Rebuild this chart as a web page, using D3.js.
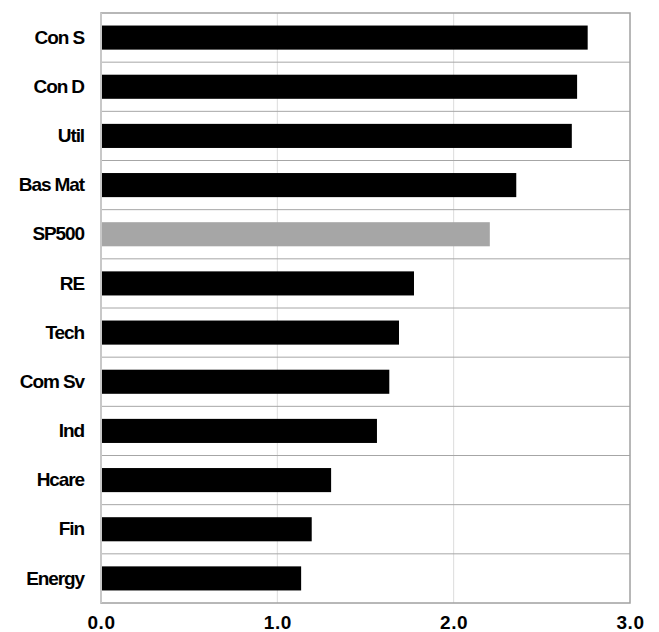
<!DOCTYPE html>
<html>
<head>
<meta charset="utf-8">
<script src="https://cdn.jsdelivr.net/npm/d3@7"></script>
<style>
  body { margin: 0; background: #fff; }
  .cat text { font-family: "Liberation Sans", Arial, sans-serif; font-weight: bold; font-size: 19px; letter-spacing: -1.1px; fill: #000; }
  .xaxis text { font-family: "Liberation Sans", Arial, sans-serif; font-weight: bold; font-size: 19px; letter-spacing: 0.6px; fill: #000; }
</style>
</head>
<body>
<div id="wrapper"></div>
<script>
const sectors = ['Con S', 'Con D', 'Util', 'Bas Mat', 'SP500', 'RE', 'Tech', 'Com Sv', 'Ind', 'Hcare', 'Fin', 'Energy']
const ratios = [2.76, 2.70, 2.67, 2.355, 2.205, 1.775, 1.69, 1.635, 1.565, 1.305, 1.195, 1.135]
const highlight = ['SP500']
const xTicks = [0, 1, 2, 3]

const dataset = sectors.map((s, i) => ({ sector: s, value: ratios[i] }))

let dimensions = {
    width: 659,
    height: 632,
    margin: { top: 13, right: 29, bottom: 29, left: 101 }
}
dimensions.boundWidth = dimensions.width - dimensions.margin.left - dimensions.margin.right
dimensions.boundHeight = dimensions.height - dimensions.margin.top - dimensions.margin.bottom

const wrapper = d3.select('#wrapper')
    .append('svg')
    .attr('width', dimensions.width)
    .attr('height', dimensions.height)
    .style('display', 'block')

const bounds = wrapper.append('g')
    .attr('transform', `translate(${dimensions.margin.left}, ${dimensions.margin.top})`)

const xScale = d3.scaleLinear()
    .domain([0, 3])
    .range([0, dimensions.boundWidth])

const yScale = d3.scaleBand()
    .domain(sectors)
    .range([0, dimensions.boundHeight])
    .paddingInner(0.51)
    .paddingOuter(0.255)

const band = d3.scaleBand().domain(sectors).range([0, dimensions.boundHeight])

// vertical gridlines
bounds.append('g')
    .selectAll('line')
    .data(xTicks.slice(1, -1))
    .join('line')
    .attr('x1', d => xScale(d))
    .attr('x2', d => xScale(d))
    .attr('y1', 0)
    .attr('y2', dimensions.boundHeight)
    .attr('stroke', '#dcdcdc')
    .attr('stroke-width', 1)

// category separators
bounds.append('g')
    .selectAll('line')
    .data(sectors.slice(1))
    .join('line')
    .attr('x1', 0)
    .attr('x2', dimensions.boundWidth)
    .attr('y1', d => band(d))
    .attr('y2', d => band(d))
    .attr('stroke', '#a6a6a6')
    .attr('stroke-width', 1)

// bars
bounds.append('g')
    .selectAll('rect')
    .data(dataset)
    .join('rect')
    .attr('x', 0)
    .attr('y', d => yScale(d.sector))
    .attr('width', d => xScale(d.value))
    .attr('height', yScale.bandwidth())
    .attr('fill', d => highlight.includes(d.sector) ? '#a6a6a6' : '#000')

// frame
bounds.append('rect')
    .attr('x', 0)
    .attr('y', 0)
    .attr('width', dimensions.boundWidth)
    .attr('height', dimensions.boundHeight)
    .attr('fill', 'none')
    .attr('stroke', '#a0a0a0')
    .attr('stroke-width', 1.5)

// left border is a lighter, thicker line
bounds.append('line')
    .attr('x1', 0).attr('x2', 0)
    .attr('y1', 0).attr('y2', dimensions.boundHeight)
    .attr('stroke', '#c8c8c8')
    .attr('stroke-width', 2)

// category labels
const yAxis = bounds.append('g')
    .attr('class', 'cat')
    .call(d3.axisLeft(yScale).tickSize(0).tickPadding(17))
yAxis.select('.domain').remove()

// x axis labels
const xAxis = bounds.append('g')
    .attr('class', 'xaxis')
    .attr('transform', `translate(0, ${dimensions.boundHeight})`)
    .call(d3.axisBottom(xScale).tickValues(xTicks).tickFormat(d3.format('.1f')).tickSize(0).tickPadding(13))
xAxis.select('.domain').remove()
</script>
</body>
</html>
